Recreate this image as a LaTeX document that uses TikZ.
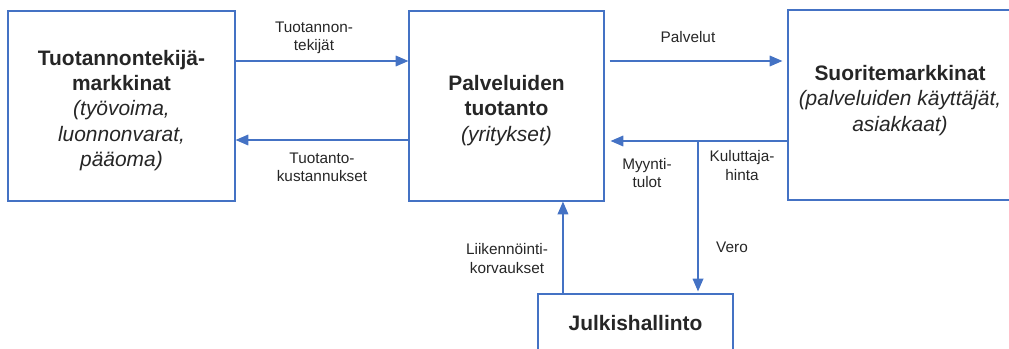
\documentclass[tikz,border=0pt]{standalone}
\usepackage{fontspec}
\setmainfont{Liberation Sans}
\usetikzlibrary{arrows.meta}
\definecolor{kaavio}{RGB}{68,114,196}
\definecolor{teksti}{RGB}{38,38,38}

\begin{document}
\begin{tikzpicture}[x=0.75pt,y=-0.75pt,
  laatikko/.style={draw=kaavio,line width=0.9pt,text=teksti,align=center,inner sep=0pt,
    font=\fontsize{15.7}{19}\selectfont},
  virta/.style={draw=kaavio,line width=0.9pt,-{Triangle[length=9.5pt,width=8pt]}},
  selite/.style={text=teksti,align=center,inner sep=0pt,font=\fontsize{11.5}{13.6}\selectfont}]
\clip (0,0) rectangle (1009,349);
\node[laatikko,minimum width=170.25pt,minimum height=142.5pt] (markkinat) at (121.5,106)
  {\rule{0pt}{18pt}\textbf{Tuotannontekijä-}\\\textbf{markkinat}\\\textit{(työvoima,}\\\textit{luonnonvarat,}\\\textit{pääoma)}};
\node[laatikko,minimum width=146.25pt,minimum height=142.5pt] (tuotanto) at (506.5,106)
  {\rule{0pt}{18pt}\textbf{Palveluiden}\\\textbf{tuotanto}\\\textit{(yritykset)}};
\node[laatikko,minimum width=168pt,minimum height=142.5pt] (suorite) at (900,105)
  {\textbf{Suoritemarkkinat}\\\textit{(palveluiden käyttäjät,}\\\textit{asiakkaat)}\\[-9pt]};
\node[laatikko,minimum width=146.25pt,minimum height=43.5pt] (julkinen) at (635.5,323)
  {\textbf{Julkishallinto}};
\coordinate (haara) at (698,141);

\draw[virta] ([yshift=33.75pt]markkinat.east) -- ([yshift=33.75pt]tuotanto.west);
\draw[virta] ([yshift=-25.5pt]tuotanto.west) -- ([yshift=-25.5pt]markkinat.east);
\draw[virta,shorten <=3.75pt,shorten >=3.75pt] ([yshift=33.75pt]tuotanto.east) -- ([yshift=33pt]suorite.west);
\draw[virta,shorten >=4.5pt] ([yshift=-27pt]suorite.west) -- ([yshift=-26.25pt]tuotanto.east);
\draw[virta,shorten >=1.5pt] (haara) -- (haara |- julkinen.north);
\draw[virta] ([xshift=-54.4pt]julkinen.north) -- ([xshift=-54.4pt]julkinen.north |- tuotanto.south);

\node[selite] (tekijat) at (314,38) {Tuotannon-\\tekijät};
\node[selite] (kustannukset) at (322,167) {Tuotanto-\\kustannukset};
\node[selite] (palvelut) at (688,37) {Palvelut};
\node[selite] (myynti) at (647,173) {Myynti-\\tulot};
\node[selite] (hinta) at (742,165.5) {Kuluttaja-\\hinta};
\node[selite] (vero) at (732,247) {Vero};
\node[selite] (korvaukset) at (507,258.5) {Liikennöinti-\\korvaukset};
\end{tikzpicture}
\end{document}
